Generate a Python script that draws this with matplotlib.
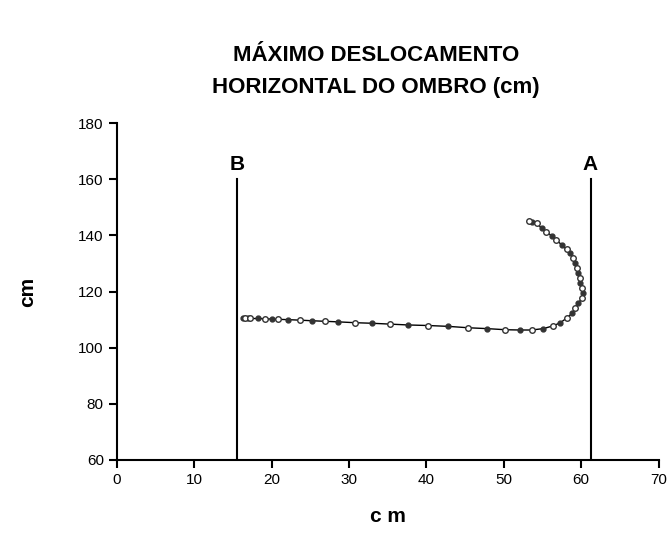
import numpy as np
import matplotlib.pyplot as plt

plt.rcParams['font.family'] = ['Liberation Sans', 'DejaVu Sans']

# shoulder trajectory (cm)
x_pts = [16.3, 16.6, 16.9, 17.2, 18.2, 19.1, 20.0, 20.8, 22.1, 23.7, 25.2, 26.9, 28.6,
         30.8, 33.0, 35.3, 37.6, 40.2, 42.8, 45.4, 47.8, 50.2, 52.1, 53.6, 55.1, 56.4,
         57.3, 58.1, 58.8, 59.2, 59.6, 60.1, 60.2, 60.1, 59.9, 59.8, 59.6, 59.4, 59.2,
         58.9, 58.6, 58.1, 57.5, 56.8, 56.2, 55.5, 54.9, 54.3, 53.6, 53.2]
y_pts = [110.4, 110.4, 110.4, 110.4, 110.4, 110.3, 110.2, 110.1, 110.0, 109.8, 109.6, 109.4, 109.2,
         108.9, 108.7, 108.4, 108.1, 107.9, 107.6, 107.1, 106.8, 106.4, 106.3, 106.3, 106.8, 107.8,
         108.9, 110.5, 112.2, 114.0, 115.8, 117.6, 119.4, 121.1, 122.9, 124.7, 126.5, 128.3, 130.1,
         131.8, 133.6, 135.0, 136.6, 138.3, 139.8, 141.3, 142.5, 144.3, 144.9, 145.2]

line_a = 61.2
line_b = 15.5
xticks = [0, 10, 20, 30, 40, 50, 60, 70]
yticks = [60, 80, 100, 120, 140, 160, 180]

fig = plt.figure(figsize=(6.67, 5.33), dpi=100)
ax = fig.add_axes([0.1754, 0.137, 0.812, 0.632])

ax.plot(x_pts, y_pts, color='black', lw=1.0, zorder=2)
filled = np.arange(len(x_pts)) % 2 == 0
xa = np.array(x_pts); ya = np.array(y_pts)
ax.plot(xa[filled], ya[filled], 'o', ms=3.5, color='#333333', zorder=3)
ax.plot(xa[~filled], ya[~filled], 'o', ms=4, mfc='white', mec='#333333', mew=1.0, zorder=3)

ax.plot([line_b, line_b], [60, 160], color='black', lw=1.5)
ax.plot([line_a, line_a], [60, 160], color='black', lw=1.5)
ax.text(line_b, 162, 'B', ha='center', va='bottom', fontsize=15, fontweight='bold')
ax.text(line_a, 162, 'A', ha='center', va='bottom', fontsize=15, fontweight='bold')

ax.set_xlim(0, 70)
ax.set_ylim(60, 180)
ax.set_xticks(xticks)
ax.set_yticks(yticks)
ax.spines['top'].set_visible(False)
ax.spines['right'].set_visible(False)
for s in ['left', 'bottom']:
    ax.spines[s].set_linewidth(1.5)
ax.tick_params(direction='out', length=6, width=1.5, labelsize=11)

ax.set_xlabel('c m', fontsize=15, fontweight='bold', labelpad=14)
ax.set_ylabel('cm', fontsize=15, fontweight='bold', labelpad=30)

fig.text(0.564, 0.895, 'MÁXIMO DESLOCAMENTO', ha='center', va='center',
         fontsize=16, fontweight='bold')
fig.text(0.564, 0.835, 'HORIZONTAL DO OMBRO (cm)', ha='center', va='center',
         fontsize=16, fontweight='bold')

fig.savefig('out.png', dpi=100)
